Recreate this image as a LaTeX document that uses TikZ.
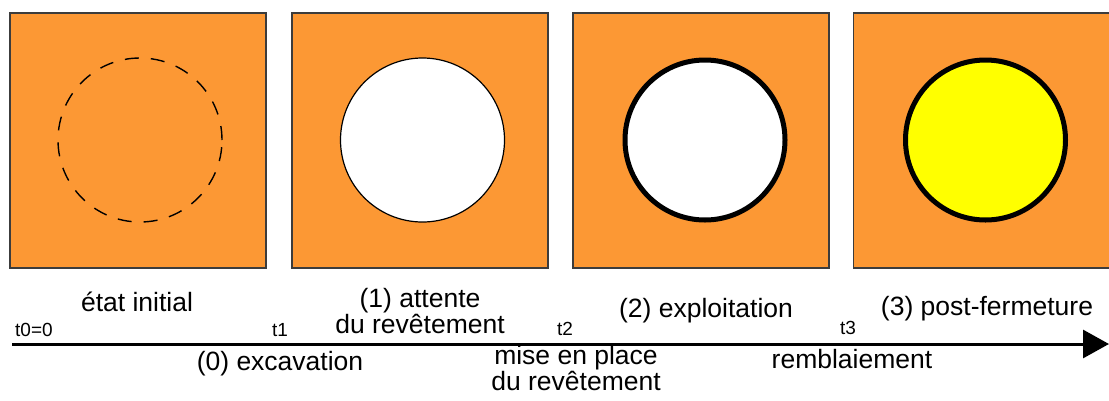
\documentclass[tikz,border=0pt]{standalone}
\usepackage{fontspec}
\setmainfont{Liberation Sans}
\usetikzlibrary{arrows.meta}
\definecolor{orng}{RGB}{252,152,52}
\definecolor{edgegray}{RGB}{60,60,60}
\definecolor{fillyellow}{RGB}{255,255,0}
\begin{document}
\begin{tikzpicture}[x=1pt,y=-1pt,
  panel/.style={draw=edgegray,line width=1.5pt,fill=orng,minimum width=256pt,minimum height=255pt,inner sep=0pt},
  hole/.style={circle,minimum size=164pt,inner sep=0pt},
  biglabel/.style={inner sep=0pt,anchor=base,font=\fontsize{26.5}{26}\selectfont,align=center},
  tlabel/.style={inner sep=0pt,anchor=base west,font=\fontsize{19}{19}\selectfont}]
\useasboundingbox (0,0) rectangle (1109,400);
% panels
\node[panel] (s1) at (138,140.5) {};
\node[panel] (s2) at (420,140.5) {};
\node[panel] (s3) at (701,140.5) {};
\node[panel] (s4) at (981.5,140.5) {};
% circles
\node[hole,draw=black,line width=1.4pt,dash pattern=on 14pt off 12pt] (c1) at (140,140) {};
\node[hole,draw=black,line width=1.2pt,fill=white] (c2) at (422.5,140) {};
\node[hole,draw=black,line width=5pt,fill=white,minimum size=160pt] (c3) at (705,140) {};
\node[hole,draw=black,line width=5pt,fill=fillyellow,minimum size=160pt] (c4) at (985.5,140) {};
% axis
\coordinate (a0) at (12,344);
\coordinate (a1) at (1109,344);
\draw[line width=3pt,-{Triangle[length=26pt,width=28pt]}] (a0) -- (a1);
% time marks
\node[tlabel] (t0) at (15,336) {t0=0};
\node[tlabel] (t1) at (272,336) {t1};
\node[tlabel] (t2) at (557,335) {t2};
\node[tlabel] (t3) at (840,334) {t3};
% state labels
\node[biglabel] (l0) at (137,311) {état initial};
\node[biglabel] (l1) at (420,333) {(1) attente\\du revêtement};
\node[biglabel] (l2) at (706,317) {(2) exploitation};
\node[biglabel] (l3) at (987,315) {(3) post-fermeture};
% phase labels
\node[biglabel] (p0) at (280,370) {(0) excavation};
\node[biglabel] (p1) at (576,390) {mise en place\\du revêtement};
\node[biglabel] (p2) at (852,368) {remblaiement};
\end{tikzpicture}
\end{document}
